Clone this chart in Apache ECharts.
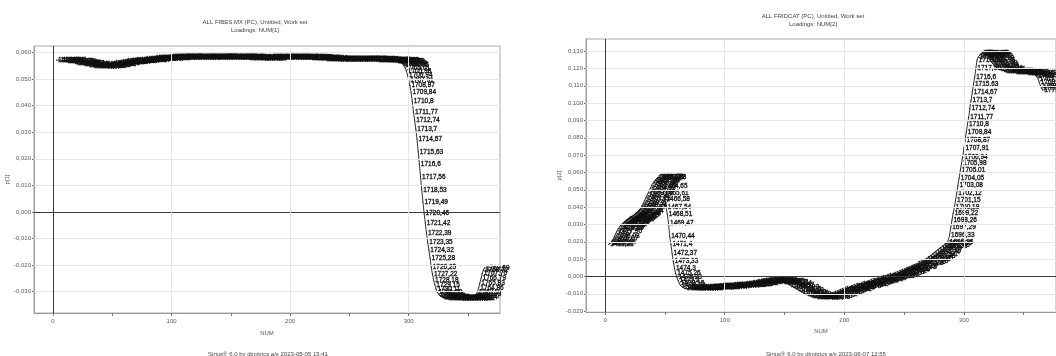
<!DOCTYPE html>
<html>
<head>
<meta charset="utf-8">
<script src="https://cdn.jsdelivr.net/npm/echarts@6/dist/echarts.min.js"></script>
<style>
  html, body { margin: 0; padding: 0; background: #fff; }
  #chart { width: 1056px; height: 356px; }
</style>
</head>
<body>
<div id="chart"></div>
<script>
// Variable index (NUM) and loading value, panel 1 (component 1)
const numA = [3,5,7,9,11,13,15,17,19,21,23,25,27,29,31,33,35,37,39,41,43,45,47,49,51,53,55,57,59,61,63,65,67,69,71,73,75,77,79,81,83,85,87,89,91,93,95,97,99,
  101,103,105,107,109,111,113,115,117,119,121,123,125,127,129,131,133,135,137,139,141,143,145,147,149,151,153,155,157,159,161,163,165,167,169,171,173,175,177,179,181,183,185,187,189,191,193,195,197,199,
  201,203,205,207,209,211,213,215,217,219,221,223,225,227,229,231,233,235,237,239,241,243,245,247,249,251,253,255,257,259,261,263,265,267,269,271,273,275,277,279,281,283,285,287,288,
  289,290,291,292,293,294,295,296,297,298,299,300,301,302,303,304,305,306,307,308,309,310,311,312,313,314,315,316,317,318,319,320,321,322,323,324,325,326,327,328,329,330,331,332,334,336,338,340,342,344,346,348,350,352,354,355,356,357,358,359,360,361,362,363,364];
const loadA = [0.0571,0.0571,0.0570,0.0569,0.0568,0.0567,0.0565,0.0563,0.0561,0.0560,0.0558,0.0556,0.0555,0.0553,0.0551,0.0549,0.0548,0.0547,0.0547,0.0548,0.0550,0.0553,0.0555,0.0557,0.0558,0.0560,0.0561,0.0562,0.0563,0.0565,0.0566,0.0567,0.0568,0.0569,0.0570,0.0571,0.0572,0.0573,0.0574,0.0575,0.0576,0.0577,0.0577,0.0578,0.0578,0.0579,0.0579,0.0580,0.0580,
  0.0580,0.0580,0.0581,0.0581,0.0581,0.0581,0.0582,0.0582,0.0582,0.0582,0.0582,0.0582,0.0582,0.0582,0.0581,0.0581,0.0581,0.0581,0.0582,0.0582,0.0582,0.0582,0.0582,0.0582,0.0582,0.0582,0.0581,0.0581,0.0580,0.0580,0.0580,0.0580,0.0579,0.0579,0.0579,0.0579,0.0579,0.0579,0.0579,0.0579,0.0580,0.0580,0.0580,0.0580,0.0581,0.0581,0.0581,0.0581,0.0582,0.0582,
  0.0582,0.0582,0.0582,0.0582,0.0581,0.0581,0.0580,0.0580,0.0579,0.0579,0.0578,0.0578,0.0577,0.0577,0.0576,0.0576,0.0576,0.0576,0.0576,0.0576,0.0575,0.0575,0.0575,0.0575,0.0575,0.0575,0.0574,0.0574,0.0574,0.0574,0.0574,0.0574,0.0573,0.0573,0.0573,0.0573,0.0572,0.0572,0.0572,0.0572,0.0571,0.0571,0.0571,0.0570,0.0569,
  0.0568,0.0567,0.0566,0.0565,0.0563,0.0560,0.0557,0.0550,0.0542,0.0530,0.0515,0.0497,0.0475,0.0450,0.0415,0.0376,0.0346,0.0312,0.0274,0.0226,0.0180,0.0132,0.0083,0.0038,-0.0004,-0.0041,-0.0079,-0.0113,-0.0143,-0.0173,-0.0207,-0.0233,-0.0256,-0.0274,-0.0289,-0.0301,-0.0308,-0.0313,-0.0317,-0.0319,-0.0320,-0.0321,-0.0322,-0.0323,-0.0323,-0.0324,-0.0324,-0.0324,-0.0325,-0.0325,-0.0325,-0.0325,-0.0325,-0.0324,-0.0322,-0.0320,-0.0317,-0.0310,-0.0300,-0.0285,-0.0268,-0.0250,-0.0232,-0.0218,-0.0210];

// Variable index (NUM) and loading value, panel 2 (component 2)
const numB = [3,4,5,6,7,8,9,10,11,12,13,14,15,16,17,18,19,20,21,22,23,24,25,26,27,28,29,30,31,32,33,34,35,36,37,38,39,40,41,42,43,44,45,46,47,
  48,49,50,51,52,53,54,55,56,57,58,59,60,61,62,63,65,67,
  70,72,74,76,78,80,82,84,86,88,90,92,94,96,98,100,102,104,106,108,110,112,114,116,118,120,122,124,126,128,130,132,134,136,138,140,142,144,146,148,150,152,154,156,158,160,162,164,166,168,170,172,174,176,178,180,182,184,186,188,190,192,194,196,198,200,
  202,204,206,208,210,212,214,216,218,220,222,224,226,228,230,232,234,236,238,240,242,244,246,248,250,252,254,256,258,260,262,264,266,268,270,272,274,276,278,280,282,284,286,
  287,288,289,290,291,292,293,294,295,296,297,298,299,300,301,302,303,304,305,306,307,308,309,310,311,312,313,314,315,316,317,318,319,320,321,322,323,324,325,326,328,330,332,334,336,338,340,342,344,346,348,350,352,354,356,358,360,361,362,363,364,365,366];
const loadB = [0.0185,0.0191,0.0197,0.0207,0.0220,0.0234,0.0249,0.0263,0.0277,0.0287,0.0295,0.0302,0.0307,0.0312,0.0318,0.0324,0.0329,0.0333,0.0337,0.0341,0.0347,0.0352,0.0358,0.0364,0.0370,0.0378,0.0387,0.0398,0.0410,0.0424,0.0439,0.0453,0.0468,0.0482,0.0497,0.0511,0.0526,0.0538,0.0549,0.0558,0.0566,0.0570,0.0572,0.0573,0.0572,
  0.0520,0.0480,0.0445,0.0399,0.0358,0.0306,0.0231,0.0185,0.0133,0.0087,0.0046,0.0017,-0.0006,-0.0023,-0.0040,-0.0052,-0.0064,-0.0069,
  -0.0070,-0.0067,-0.0066,-0.0066,-0.0065,-0.0065,-0.0064,-0.0064,-0.0063,-0.0062,-0.0061,-0.0060,-0.0059,-0.0058,-0.0057,-0.0056,-0.0055,-0.0054,-0.0053,-0.0052,-0.0051,-0.0049,-0.0048,-0.0046,-0.0044,-0.0042,-0.0040,-0.0038,-0.0035,-0.0032,-0.0030,-0.0027,-0.0025,-0.0024,-0.0023,-0.0023,-0.0025,-0.0026,-0.0028,-0.0031,-0.0035,-0.0041,-0.0048,-0.0055,-0.0063,-0.0072,-0.0080,-0.0088,-0.0095,-0.0102,-0.0107,-0.0111,-0.0114,-0.0117,-0.0119,-0.0120,-0.0121,-0.0119,-0.0116,-0.0110,-0.0103,-0.0096,-0.0091,-0.0085,-0.0080,-0.0075,
  -0.0071,-0.0066,-0.0063,-0.0059,-0.0056,-0.0052,-0.0047,-0.0042,-0.0038,-0.0033,-0.0029,-0.0025,-0.0021,-0.0017,-0.0012,-0.0008,-0.0004,0.0000,0.0004,0.0008,0.0012,0.0017,0.0022,0.0029,0.0036,0.0043,0.0050,0.0056,0.0062,0.0068,0.0074,0.0080,0.0088,0.0097,0.0107,0.0119,0.0131,0.0142,0.0153,0.0163,0.0172,0.0182,0.0190,
  0.0197,0.0237,0.0283,0.0324,0.0364,0.0399,0.0439,0.0480,0.0526,0.0566,0.0613,0.0653,0.0688,0.0740,0.0786,0.0832,0.0879,0.0919,0.0971,0.1017,0.1064,0.1110,0.1150,0.1202,0.1249,0.1266,0.1277,0.1283,0.1287,0.1289,0.1288,0.1285,0.1279,0.1272,0.1261,0.1250,0.1239,0.1228,0.1219,0.1210,0.1202,0.1196,0.1190,0.1187,0.1185,0.1184,0.1182,0.1180,0.1179,0.1178,0.1177,0.1176,0.1175,0.1174,0.1172,0.1168,0.1162,0.1155,0.1140,0.1120,0.1100,0.1085,0.1075];

// Axis ticks and labels
const xLabelVals = [0, 100, 200, 300];
const xTickVals = [0, 50, 100, 150, 200, 250, 300, 350];
const xGridVals = [100, 200, 300];
const yTicksA = [-0.03, -0.02, -0.01, 0, 0.01, 0.02, 0.03, 0.04, 0.05, 0.06];
const yTicksB = [-0.02, -0.01, 0, 0.01, 0.02, 0.03, 0.04, 0.05, 0.06, 0.07, 0.08, 0.09, 0.10, 0.11, 0.12, 0.13];

// Texts
const titlesA = ['ALL FIBES.MX (PC), Untitled, Work set', 'Loadings: NUM[1]'];
const titlesB = ['ALL FRIDCAT (PC), Untitled, Work set', 'Loadings: NUM[2]'];
const footA = 'Sirius® 6.0 by dimitrics a/s 2023-05-05 15:41';
const footB = 'Sirius® 6.0 by dimitrics a/s 2023-06-07 12:55';
const yNameA = 'p[1]', yNameB = 'p[2]', xName = 'NUM';

// Wavenumber assigned to each variable index (instrument grid, cm-1)
const waveStart = 1418.31, waveStep = 0.96533;
function waveName(n) {
  return String(Number((waveStart + waveStep * n).toFixed(2))).replace('.', ',');
}
function fmtY(v) {
  const s = Math.abs(v).toFixed(3).replace('.', ',');
  return (v < -1e-9 ? '-' : '') + s;
}

const FONT = 'Liberation Sans';
const PT_FONT = '"Liberation Sans Narrow", "Liberation Sans", sans-serif';
const GRID_COL = '#e6e6e6';
const ZERO_COL = '#3a3a3a';
const LABEL_COL = '#5a5a5a';

function xAxisCfg(gridIndex, gap) {
  return {
    gridIndex, type: 'value', min: -16, max: 377,
    name: xName, nameLocation: 'middle', nameGap: gap,
    nameTextStyle: { fontSize: 6, color: LABEL_COL, fontFamily: FONT },
    axisLine: { show: true, onZero: false, lineStyle: { color: '#9a9a9a', width: 1 } },
    axisTick: { show: true, customValues: xTickVals, length: 3, lineStyle: { color: '#777' } },
    axisLabel: { customValues: xLabelVals, fontSize: 6, color: LABEL_COL, fontFamily: FONT, margin: 5 },
    splitLine: { show: false }
  };
}
function yAxisCfg(gridIndex, min, max, ticks, name, gap) {
  return {
    gridIndex, type: 'value', min, max,
    name, nameLocation: 'middle', nameGap: gap, nameRotate: 90,
    nameTextStyle: { fontSize: 6, color: LABEL_COL, fontFamily: FONT },
    axisLine: { show: true, onZero: false, lineStyle: { color: '#9a9a9a', width: 1 } },
    axisTick: { show: true, customValues: ticks, length: 2, lineStyle: { color: '#777' } },
    axisLabel: { customValues: ticks, fontSize: 6, color: LABEL_COL, fontFamily: FONT, margin: 3, formatter: fmtY },
    splitLine: { show: false }
  };
}
// Reference lines: light grid at tick values, dark lines through zero
function gridLines(idx, yTicks) {
  const data = [];
  yTicks.forEach(v => {
    data.push({ yAxis: v, lineStyle: v === 0 ? { color: ZERO_COL, width: 1 } : { color: GRID_COL, width: 1 } });
  });
  xGridVals.forEach(v => data.push({ xAxis: v, lineStyle: { color: GRID_COL, width: 1 } }));
  data.push({ xAxis: 0, lineStyle: { color: ZERO_COL, width: 1 } });
  return {
    type: 'line', xAxisIndex: idx, yAxisIndex: idx, data: [], z: 1, silent: true,
    markLine: { silent: true, symbol: 'none', label: { show: false }, lineStyle: { type: 'solid' }, data, animation: false }
  };
}
// Loading curve, every variable marked with its wavenumber
function loadingSeries(idx, nums, vals) {
  return {
    type: 'line', xAxisIndex: idx, yAxisIndex: idx, z: 3,
    data: nums.map((n, k) => [n, vals[k]]),
    symbol: 'circle', symbolSize: 1, showAllSymbol: true,
    itemStyle: { color: '#000' },
    lineStyle: { color: '#000', width: 0.8 },
    label: {
      show: true, position: 'right', distance: 1,
      fontSize: 6.5, color: '#111', fontFamily: PT_FONT,
      textBorderColor: '#111', textBorderWidth: 0.3,
      formatter: p => waveName(p.value[0])
    },
    labelLayout: { hideOverlap: false },
    animation: false
  };
}
function titleText(lines, x, y) {
  return {
    text: lines.join('\n'), left: x, top: y, textAlign: 'center',
    textStyle: { fontSize: 6, fontWeight: 'normal', color: '#444', fontFamily: FONT, lineHeight: 8 }
  };
}

const chart = echarts.init(document.getElementById('chart'), null, { renderer: 'canvas' });
chart.setOption({
  backgroundColor: '#fff',
  animation: false,
  title: [
    titleText(titlesA, 250, 13),
    titleText(titlesB, 808, 7),
    titleText([footA], 263, 345),
    titleText([footB], 821, 345)
  ],
  grid: [
    { left: 34, top: 46, width: 466, height: 267, show: true, borderColor: '#a8a8a8', borderWidth: 1, backgroundColor: 'transparent' },
    { left: 586, top: 39, width: 472, height: 273, show: true, borderColor: '#a8a8a8', borderWidth: 1, backgroundColor: 'transparent' }
  ],
  xAxis: [xAxisCfg(0, 17), xAxisCfg(1, 15)],
  yAxis: [
    yAxisCfg(0, -0.038, 0.0624, yTicksA, yNameA, 22),
    yAxisCfg(1, -0.0205, 0.137, yTicksB, yNameB, 21)
  ],
  series: [
    gridLines(0, yTicksA),
    gridLines(1, yTicksB),
    loadingSeries(0, numA, loadA),
    loadingSeries(1, numB, loadB)
  ]
});
</script>
</body>
</html>
